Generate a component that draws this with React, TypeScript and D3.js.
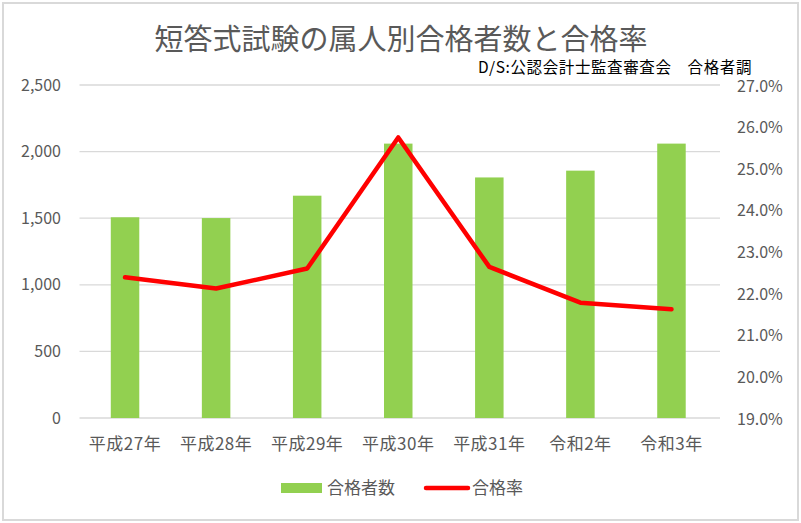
import React from "react";
import * as d3 from "d3";

const categories = ["平成27年", "平成28年", "平成29年", "平成30年", "平成31年", "令和2年", "令和3年"];
const passers = [1507, 1501, 1669, 2060, 1806, 1857, 2060];
const passRate = [22.38, 22.11, 22.59, 25.74, 22.63, 21.77, 21.61];
const leftTicks = [0, 500, 1000, 1500, 2000, 2500];
const rightTicks = [19, 20, 21, 22, 23, 24, 25, 26, 27];

const W = 801;
const H = 523;
const FONT = "'Noto Sans CJK JP', 'Noto Sans', sans-serif";

export default function App() {
  const left = 79.5;
  const right = 717;
  const top = 85;
  const bottom = 418;

  const x = d3.scaleBand<string>().domain(categories).range([left, right]).paddingInner(0).paddingOuter(0);
  const yL = d3.scaleLinear().domain([0, 2500]).range([bottom, top]);
  const yR = d3.scaleLinear().domain([19, 27]).range([bottom, top]);
  const barW = 28.5;
  const cx = (c: string) => (x(c) as number) + x.bandwidth() / 2;

  const line = d3
    .line<number>()
    .x((_, i) => cx(categories[i]))
    .y((d) => yR(d));

  const fmtL = d3.format(",");
  const fmtR = (v: number) => v.toFixed(1) + "%";

  return (
    <svg width={W} height={H} style={{ position: "absolute", left: 0, top: 0, background: "#fff" }} fontFamily={FONT}>
      <rect x={3} y={3} width={W - 6} height={H - 6} fill="#fff" stroke="#d9d9d9" strokeWidth={2} />
      <text x={401} y={50} textAnchor="middle" fontSize={29} fill="#595959">
        短答式試験の属人別合格者数と合格率
      </text>
      <text x={752} y={73} textAnchor="end" fontSize={15.5} fill="#000" letterSpacing={0.6}>
        D/S:公認会計士監査審査会　合格者調
      </text>
      {leftTicks.map((t) => (
        <line key={"g" + t} x1={left} x2={right + 3} y1={yL(t)} y2={yL(t)} stroke="#d9d9d9" strokeWidth={1.3} />
      ))}
      {leftTicks.map((t) => (
        <text key={"l" + t} x={61} y={yL(t)} dy="0.35em" textAnchor="end" fontSize={16} fill="#595959">
          {fmtL(t)}
        </text>
      ))}
      {rightTicks.map((t) => (
        <text key={"r" + t} x={737} y={yR(t) + 1} dy="0.35em" textAnchor="start" fontSize={16} fill="#595959">
          {fmtR(t)}
        </text>
      ))}
      {categories.map((c, i) => (
        <rect key={"b" + c} x={cx(c) - barW / 2} y={yL(passers[i])} width={barW} height={bottom - yL(passers[i])} fill="#92d050" />
      ))}
      <path d={line(passRate) || ""} fill="none" stroke="#ff0000" strokeWidth={4.5} strokeLinejoin="round" strokeLinecap="round" />
      {categories.map((c) => (
        <text key={"c" + c} x={cx(c)} y={444} dy="0.35em" textAnchor="middle" fontSize={17} letterSpacing={0.5} fill="#595959">
          {c}
        </text>
      ))}
      <rect x={281} y={483} width={41} height={10} fill="#92d050" />
      <text x={327} y={488} dy="0.35em" fontSize={17} fill="#595959">合格者数</text>
      <line x1={426} x2={468} y1={488} y2={488} stroke="#ff0000" strokeWidth={4.5} strokeLinecap="round" />
      <text x={472} y={488} dy="0.35em" fontSize={17} fill="#595959">合格率</text>
    </svg>
  );
}
